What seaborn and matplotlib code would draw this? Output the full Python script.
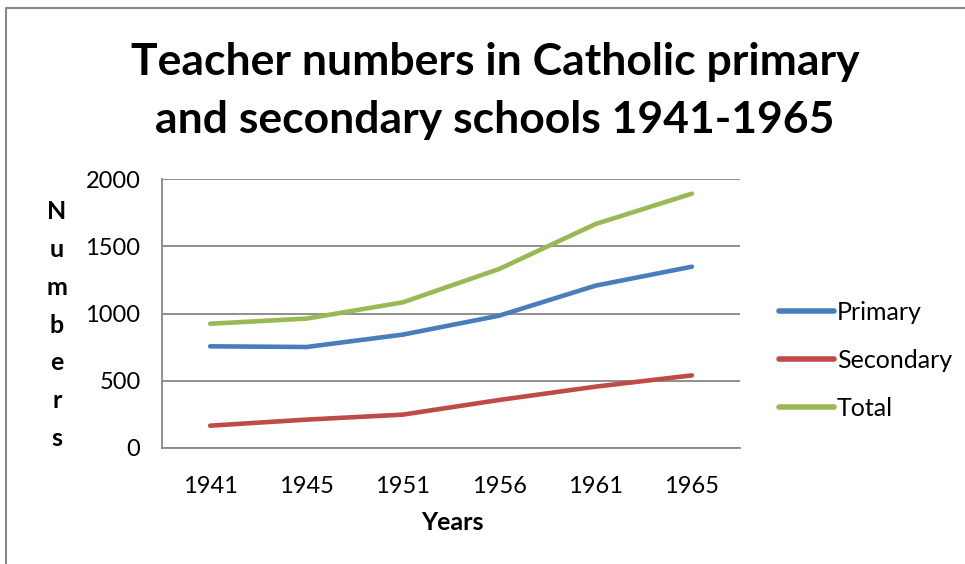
import matplotlib
matplotlib.use("Agg")
import matplotlib.pyplot as plt
import seaborn as sns
import pandas as pd
from matplotlib.lines import Line2D

years = ["1941", "1945", "1951", "1956", "1961", "1965"]
primary = [756, 751, 843, 984, 1207, 1348]
secondary = [166, 211, 248, 357, 456, 540]
total = [924, 962, 1083, 1331, 1665, 1891]
series_names = ["Primary", "Secondary", "Total"]
yticks = [0, 500, 1000, 1500, 2000]

colors = {"Primary": "#4A7EBB", "Secondary": "#BE4B48", "Total": "#98B954"}

rows = []
for name, vals in zip(series_names, [primary, secondary, total]):
    for i, v in enumerate(vals):
        rows.append({"pos": i, "year": years[i], "value": v, "series": name})
df = pd.DataFrame(rows)

sns.set_theme(style="white")
plt.rcParams["font.family"] = ["Lato", "DejaVu Sans"]
plt.rcParams["text.color"] = "black"

W, H = 965, 564
fig = plt.figure(figsize=(W / 100, H / 100), dpi=100)
fig.patch.set_facecolor("white")

ax = fig.add_axes([162 / W, (H - 448) / H, (740 - 162) / W, (448 - 179) / H])
sns.lineplot(data=df, x="pos", y="value", hue="series", palette=colors,
             linewidth=3.3, ax=ax, legend=False, solid_capstyle="round")

grid_c = "#878787"
ax.set_xlim(-0.5, len(years) - 0.5)
ax.set_ylim(0, 2000)
ax.set_yticks(yticks)
ax.set_yticklabels([str(t) for t in yticks], fontsize=17, color="black")
ax.set_xticks(range(len(years)))
ax.set_xticklabels(years, fontsize=17, color="black")
ax.set_xticks([i - 0.5 for i in range(len(years) + 1)], minor=True)
ax.tick_params(axis="x", which="major", length=0, pad=20)
ax.tick_params(axis="x", which="minor", length=6, width=1.3, color=grid_c, direction="out")
ax.tick_params(axis="y", which="major", length=6, width=1.3, color=grid_c, direction="out", pad=9.5)
ax.yaxis.grid(True, color=grid_c, linewidth=1.3)
ax.set_axisbelow(True)
for s in ["top", "right"]:
    ax.spines[s].set_visible(False)
for s in ["left", "bottom"]:
    ax.spines[s].set_color(grid_c)
    ax.spines[s].set_linewidth(1.3)
ax.set_xlabel("")
ax.set_ylabel("")

fig.text(452 / W, 1 - 523 / H, "Years", fontsize=18, fontweight="bold",
         ha="center", va="center", color="black")
fig.text(57 / W, 1 - 325 / H, "N\nu\nm\nb\ne\nr\ns", fontsize=18, fontweight="bold",
         ha="center", va="center", linespacing=1.78, multialignment="center", color="black")

fig.text(495 / W, 1 - 91 / H, "Teacher numbers in Catholic primary\nand secondary schools 1941-1965",
         fontsize=32, fontweight="bold", ha="center", va="center", linespacing=1.52,
         color="black")

handles = [Line2D([0], [0], color=colors[n], lw=4, solid_capstyle="round") for n in series_names]
fig.legend(handles, series_names, loc="center left", bbox_to_anchor=(779 / W, 1 - 360 / H),
           frameon=False, fontsize=18, handlelength=2.2, handletextpad=0.12,
           labelspacing=1.0, borderaxespad=0, borderpad=0, labelcolor="black")

border = Line2D([5.5 / W, 5.5 / W, 1.0], [0.0, 1 - 7.5 / H, 1 - 7.5 / H],
                transform=fig.transFigure, color="#878787", lw=1.5)
fig.add_artist(border)

fig.savefig("out.png", dpi=100)
